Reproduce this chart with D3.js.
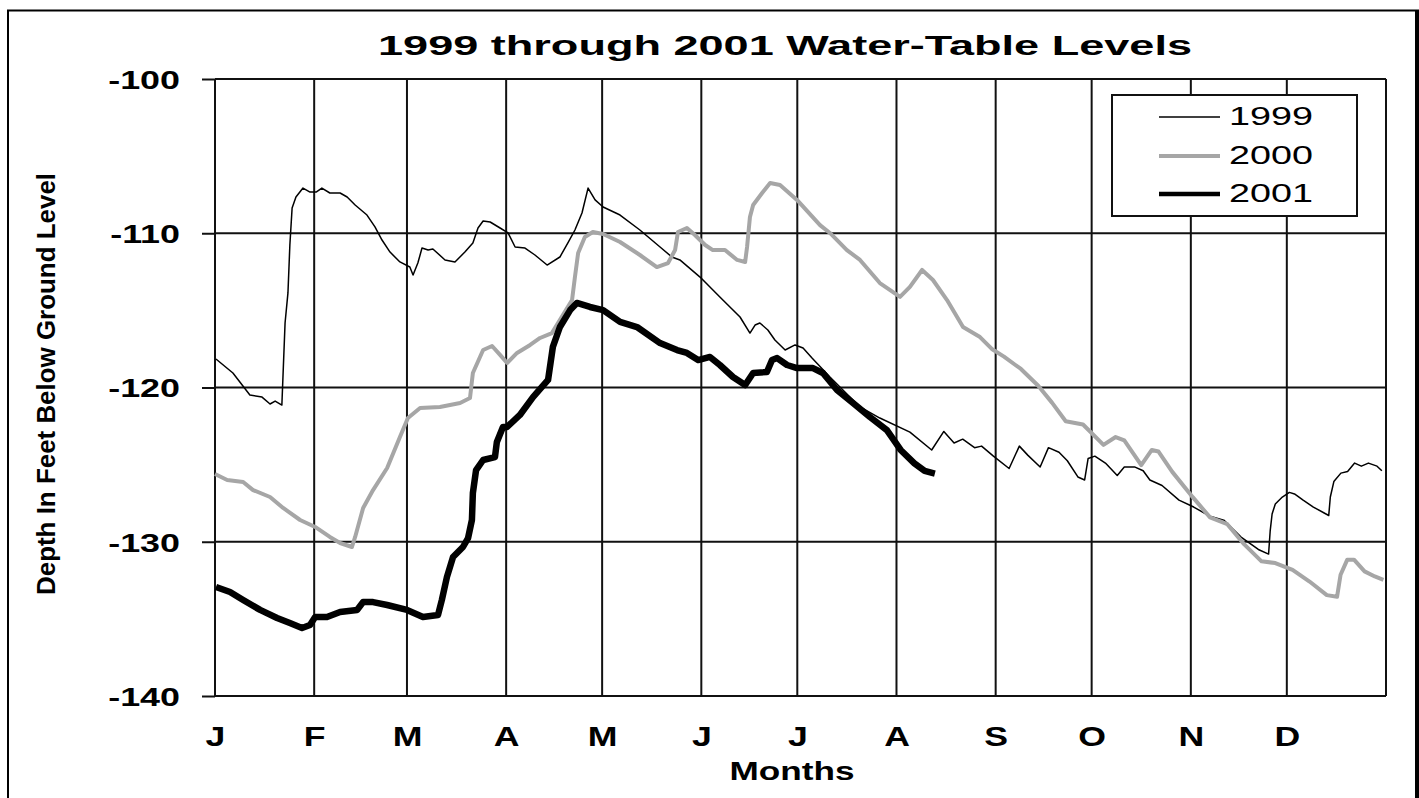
<!DOCTYPE html>
<html><head><meta charset="utf-8">
<script src="https://cdn.jsdelivr.net/npm/d3@7"></script>
<style>
html,body{margin:0;padding:0;background:#fff;}
svg{display:block;font-family:"Liberation Sans",Arial,sans-serif;}
</style></head>
<body><svg id="c" width="1419" height="798"></svg>
<script>
// ---- data ----
const monthLabels = ["J","F","M","A","M","J","J","A","S","O","N","D"];
const monthStarts = [0,31,60,91,121,152,182,213,244,274,305,335,366]; // day of year
const yTicks = [-100,-110,-120,-130,-140];
const seriesNames = ["1999","2000","2001"];

const series1999 = [[0.3,-118.15],[5.6,-119.06],[10.9,-120.49],[14.7,-120.62],[17.2,-121.07],[18.8,-120.88],[20.9,-121.14],[21.3,-119.0],[21.9,-115.82],[22.8,-113.87],[23.4,-110.76],[24.1,-108.36],[25.3,-107.65],[27.5,-107.07],[29.7,-107.33],[31.6,-107.33],[33.4,-107.07],[35.9,-107.39],[39.1,-107.39],[41.3,-107.65],[43.8,-108.17],[47.5,-108.82],[50.0,-109.59],[52.2,-110.44],[54.7,-111.22],[57.8,-111.86],[60.9,-112.19],[61.9,-112.71],[63.4,-111.93],[64.7,-110.96],[66.6,-111.09],[68.1,-111.02],[71.9,-111.73],[75.0,-111.86],[78.1,-111.22],[80.6,-110.63],[82.2,-109.66],[83.8,-109.21],[86.0,-109.27],[89.1,-109.66],[91.6,-109.98],[93.8,-110.89],[96.9,-110.96],[100.0,-111.41],[103.8,-112.06],[107.8,-111.54],[110.3,-110.63],[112.5,-109.79],[114.7,-108.69],[116.6,-107.07],[118.8,-107.84],[121.3,-108.30],[126.6,-108.82],[132.8,-109.79],[139.1,-110.89],[142.8,-111.54],[145.3,-111.73],[151.6,-112.84],[157.8,-114.13],[164.1,-115.43],[167.2,-116.47],[168.8,-115.95],[170.3,-115.82],[172.8,-116.27],[175.0,-116.92],[178.2,-117.57],[181.3,-117.24],[183.8,-117.44],[186.6,-118.09],[192.2,-119.32],[201.6,-121.26],[207.8,-121.98],[217.2,-122.89],[224.0,-124.05],[227.8,-122.85],[231.0,-123.6],[233.7,-123.35],[237.4,-123.9],[239.6,-123.8],[243.3,-124.45],[248.2,-125.25],[251.4,-123.8],[254.1,-124.4],[257.9,-125.15],[260.5,-123.9],[263.8,-124.2],[266.4,-124.75],[269.7,-125.8],[271.8,-126.0],[272.9,-124.6],[275.0,-124.45],[278.3,-124.9],[282.0,-125.7],[284.2,-125.15],[287.4,-125.15],[290.1,-125.4],[292.2,-126.0],[296.0,-126.35],[301.3,-127.3],[305.9,-127.75],[311.0,-128.35],[315.3,-128.6],[320.7,-129.7],[326.1,-130.5],[329.3,-130.8],[329.8,-129.3],[330.4,-128.2],[331.4,-127.55],[333.6,-127.1],[335.8,-126.8],[337.4,-126.9],[340.1,-127.3],[343.3,-127.75],[348.1,-128.3],[348.6,-127.1],[349.7,-126.1],[351.9,-125.55],[354.0,-125.45],[356.2,-124.9],[358.3,-125.1],[360.5,-124.9],[363.2,-125.1],[364.7,-125.4]];

const series2000 = [[0,-125.61],[3.8,-126.0],[8.8,-126.13],[11.9,-126.65],[17.2,-127.10],[21.3,-127.81],[26.6,-128.59],[31.3,-129.04],[35.9,-129.69],[39.1,-130.08],[42.8,-130.34],[43.8,-129.69],[46.3,-127.81],[49.4,-126.65],[53.8,-125.22],[57.8,-123.21],[60.3,-121.98],[64.1,-121.33],[70.3,-121.26],[76.6,-121.00],[79.7,-120.68],[80.6,-119.06],[83.8,-117.57],[86.6,-117.31],[89.1,-117.89],[91.3,-118.41],[94.4,-117.76],[98.5,-117.24],[101.6,-116.79],[105.3,-116.47],[111.6,-114.33],[112.5,-112.84],[113.5,-111.28],[115.6,-110.24],[118.1,-109.92],[121.3,-110.05],[126.6,-110.57],[132.8,-111.41],[138.1,-112.19],[141.6,-111.93],[143.8,-111.09],[144.7,-109.92],[147.5,-109.66],[150.0,-110.11],[153.2,-110.76],[155.6,-111.09],[159.4,-111.09],[163.2,-111.73],[165.7,-111.86],[166.3,-110.89],[167.2,-108.95],[168.2,-108.17],[171.0,-107.39],[173.5,-106.74],[176.6,-106.87],[181.9,-107.84],[189.1,-109.47],[192.2,-109.98],[197.5,-111.09],[201.6,-111.73],[207.8,-113.23],[213.2,-114.00],[214.1,-114.13],[217.2,-113.48],[221.0,-112.38],[224.4,-113.03],[228.8,-114.33],[233.8,-116.08],[239.1,-116.73],[242.8,-117.5],[246.6,-118.0],[251.9,-118.8],[257.3,-119.89],[261.6,-120.98],[265.9,-122.19],[271.3,-122.4],[277.7,-123.72],[281.5,-123.21],[284.2,-123.43],[289.5,-125.03],[292.8,-124.05],[294.9,-124.15],[299.2,-125.47],[305.6,-127.11],[311.0,-128.42],[316.4,-128.86],[321.7,-130.17],[327.1,-131.27],[331.4,-131.38],[336.8,-131.82],[342.1,-132.58],[347.5,-133.46],[350.7,-133.57],[351.8,-132.14],[353.9,-131.16],[356.0,-131.16],[359.3,-131.92],[362.5,-132.25],[365.2,-132.47]];

const series2001 = [[0.3,-132.93],[4.7,-133.26],[8.8,-133.78],[14.1,-134.42],[19.4,-134.94],[23.4,-135.27],[27.2,-135.59],[29.7,-135.40],[31.3,-134.88],[35.0,-134.88],[39.1,-134.55],[44.4,-134.42],[46.3,-133.91],[49.4,-133.91],[53.8,-134.10],[60.0,-134.42],[65.0,-134.88],[69.7,-134.75],[70.9,-133.78],[72.5,-132.28],[74.4,-130.99],[77.5,-130.34],[79.1,-129.76],[80.3,-128.59],[80.6,-126.84],[81.6,-125.35],[83.8,-124.70],[87.5,-124.51],[88.1,-123.53],[90.0,-122.56],[91.3,-122.56],[95.3,-121.78],[99.4,-120.62],[104.1,-119.51],[105.6,-117.37],[107.8,-116.08],[111.0,-114.98],[113.1,-114.52],[117.2,-114.78],[121.3,-114.98],[126.6,-115.75],[131.9,-116.08],[139.1,-117.12],[144.4,-117.57],[147.5,-117.76],[151.0,-118.22],[154.7,-118.02],[157.8,-118.54],[161.9,-119.32],[165.7,-119.84],[168.2,-119.06],[172.5,-118.99],[174.1,-118.22],[175.7,-118.09],[178.8,-118.54],[181.9,-118.74],[186.9,-118.74],[190.0,-119.06],[194.4,-120.16],[199.4,-121.00],[204.7,-121.91],[210.0,-122.76],[214.3,-124.05],[218.6,-124.92],[221.8,-125.41],[225.0,-125.58]];

const allSeries = [series1999, series2000, series2001];
const seriesStyle = [
  {color:"#000", width:1.5},
  {color:"#a6a6a6", width:4},
  {color:"#000", width:6.5}
];

// ---- drawing ----
const svg = d3.select("#c");
const x = d3.scaleLinear().domain([0,366]).range([215,1386]);
const y = d3.scaleLinear().domain([-140,-100]).range([696,79]);

function stretch(sel, f){
  sel.each(function(){
    const w = this.getComputedTextLength();
    d3.select(this).attr("textLength", w*f).attr("lengthAdjust","spacingAndGlyphs");
  });
}

// outer frame
svg.append("line").attr("x1",8).attr("x2",8).attr("y1",10).attr("y2",798).attr("stroke","#000").attr("stroke-width",2);
svg.append("line").attr("x1",7).attr("x2",1419).attr("y1",10.5).attr("y2",10.5).attr("stroke","#000").attr("stroke-width",2);
svg.append("line").attr("x1",1417).attr("x2",1417).attr("y1",10).attr("y2",798).attr("stroke","#000").attr("stroke-width",4);

// title
svg.append("text").attr("x",785).attr("y",55).attr("text-anchor","middle")
  .attr("font-size",28).attr("font-weight","bold").text("1999 through 2001 Water-Table Levels")
  .attr("textLength",814).attr("lengthAdjust","spacingAndGlyphs");

// gridlines
const grid = svg.append("g");
grid.selectAll("line.h").data(yTicks).join("line")
  .attr("x1",x(0)).attr("x2",x(366)).attr("y1",d=>y(d)).attr("y2",d=>y(d))
  .attr("stroke","#111").attr("stroke-width",2);
grid.selectAll("line.v").data(monthStarts).join("line")
  .attr("x1",d=>x(d)).attr("x2",d=>x(d)).attr("y1",y(-100)).attr("y2",y(-140))
  .attr("stroke","#111").attr("stroke-width",2);

// y axis
const yAxis = svg.append("g").attr("transform",`translate(${x(0)},0)`)
  .call(d3.axisLeft(y).tickValues(yTicks).tickSize(13).tickFormat(d3.format("d")));
yAxis.select(".domain").remove();
yAxis.selectAll(".tick line").attr("stroke","#111").attr("stroke-width",2);
yAxis.selectAll(".tick text").attr("font-size",26).attr("font-weight","bold")
  .attr("font-family","Liberation Sans, Arial, sans-serif").attr("fill","#000")
  .attr("x",-35).attr("dy","0.36em").text(d=>String(d).replace("\u2212","-"));
stretch(yAxis.selectAll(".tick text"), 1.38);

// x axis labels
const xAxis = svg.append("g").attr("transform",`translate(0,${y(-140)})`)
  .call(d3.axisBottom(x).tickValues(monthStarts.slice(0,12)).tickSize(0).tickFormat((d,i)=>monthLabels[i]));
xAxis.select(".domain").remove();
xAxis.selectAll(".tick text").attr("font-size",27).attr("font-weight","bold")
  .attr("font-family","Liberation Sans, Arial, sans-serif").attr("fill","#000")
  .attr("y",50).attr("dy",0);
stretch(xAxis.selectAll(".tick text"), 1.32);

// axis titles
svg.append("text").attr("x",792).attr("y",780).attr("text-anchor","middle")
  .attr("font-size",25).attr("font-weight","bold").text("Months")
  .attr("textLength",125).attr("lengthAdjust","spacingAndGlyphs");
svg.append("text").attr("transform","translate(55,384) rotate(-90)").attr("text-anchor","middle")
  .attr("font-size",25).attr("font-weight","bold").text("Depth In Feet Below Ground Level")
  .attr("textLength",422).attr("lengthAdjust","spacingAndGlyphs");

// series lines
const line = d3.line().x(d=>x(d[0])).y(d=>y(d[1])).curve(d3.curveLinear);
svg.append("g").selectAll("path").data(allSeries).join("path")
  .attr("d",line).attr("fill","none")
  .attr("stroke",(d,i)=>seriesStyle[i].color)
  .attr("stroke-width",(d,i)=>seriesStyle[i].width)
  .attr("stroke-linejoin","round");

// legend
const lg = svg.append("g");
lg.append("rect").attr("x",1112).attr("y",95).attr("width",245).attr("height",121)
  .attr("fill","#fff").attr("stroke","#111").attr("stroke-width",2);
const legY = [117,156,194];
const items = lg.selectAll("g.item").data(seriesNames).join("g");
items.append("line").attr("x1",1159).attr("x2",1220).attr("y1",(d,i)=>legY[i]).attr("y2",(d,i)=>legY[i])
  .attr("stroke",(d,i)=>seriesStyle[i].color).attr("stroke-width",(d,i)=>Math.min(seriesStyle[i].width,4.5));
items.append("text").attr("x",1229).attr("y",(d,i)=>legY[i]+8).attr("font-size",26)
  .text(d=>d).attr("textLength",84).attr("lengthAdjust","spacingAndGlyphs");
</script></body></html>
